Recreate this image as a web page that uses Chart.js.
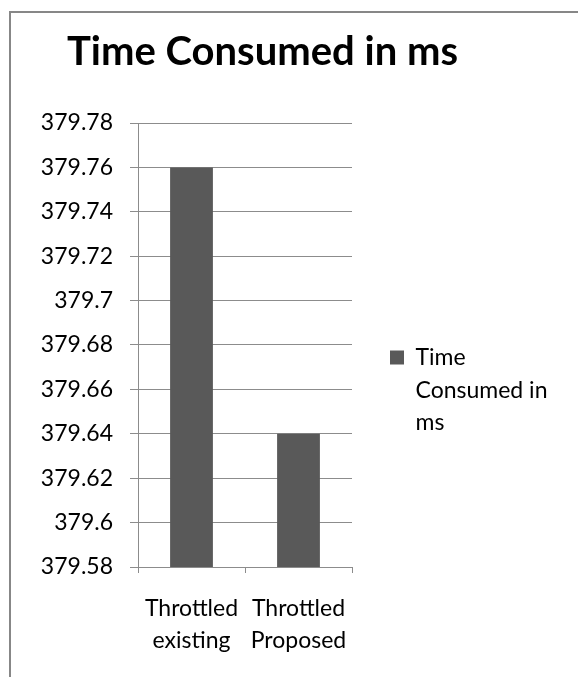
<!DOCTYPE html>
<html lang="en">
<head>
    <meta charset="UTF-8" />
    <title>Time Consumed in ms</title>
    <script src="https://cdn.jsdelivr.net/npm/chart.js"></script>
    <style>
        html, body { margin: 0; padding: 0; background: #fff; overflow: hidden; }
        /* outer chart frame, right and bottom edges fall outside the picture */
        #frame { position: absolute; left: 9px; top: 11px; width: 700px; height: 800px; border: 2px solid #878787; }
        #chart { position: absolute; left: 0; top: 0; }
    </style>
</head>
<body>
    <div id="frame"></div>
    <canvas id="chart" width="578" height="677"></canvas>

    <script>
        // Data
        const chartTitle = 'Time Consumed in ms';
        const categories = [['Throttled', 'existing'], ['Throttled', 'Proposed']];
        const seriesName = 'Time Consumed in ms';
        const timeValues = [379.76, 379.64];
        const yTicks = [379.58, 379.6, 379.62, 379.64, 379.66, 379.68, 379.7, 379.72, 379.74, 379.76, 379.78];
        const legendLines = ['Time', 'Consumed in', 'ms'];

        const barColor = '#595959';
        const lineColor = '#8c8c8c';

        Chart.defaults.font.family = 'Lato';
        Chart.defaults.color = '#000';

        // legend text runs past the legend box like in the original, so don't clip it
        const legendNoClip = {
            id: 'legendNoClip',
            afterLayout(chart) {
                chart.legend.right = chart.width;
                chart.legend.width = chart.legend.right - chart.legend.left;
            }
        };

        new Chart(document.getElementById('chart'), {
            type: 'bar',
            data: {
                labels: categories,
                datasets: [{
                    label: seriesName,
                    data: timeValues,
                    backgroundColor: barColor,
                    borderWidth: 0,
                    barPercentage: 0.4,
                    categoryPercentage: 1.0
                }]
            },
            options: {
                responsive: false,
                animation: false,
                layout: { padding: { left: 9, right: 62, top: 13, bottom: 0 } },
                scales: {
                    x: {
                        afterFit: s => { s.height = 110; },
                        grid: { drawOnChartArea: false, drawTicks: true, tickLength: 6, color: lineColor, offset: true },
                        border: { color: lineColor },
                        ticks: { padding: 19, maxRotation: 0, autoSkip: false, font: { size: 23, lineHeight: 1.4 } }
                    },
                    y: {
                        min: yTicks[0],
                        max: yTicks[yTicks.length - 1],
                        afterFit: s => { s.width = 129; },
                        afterBuildTicks: s => { s.ticks = yTicks.map(v => ({ value: v })); },
                        grid: { color: lineColor, tickLength: 8 },
                        border: { color: lineColor },
                        ticks: { padding: 17, font: { size: 23 }, callback: v => String(v) }
                    }
                },
                plugins: {
                    tooltip: { enabled: false },
                    title: {
                        display: true,
                        text: chartTitle,
                        color: '#000',
                        font: { size: 40, weight: 'bold', lineHeight: 1.2 },
                        padding: { top: 15, bottom: 47 }
                    },
                    legend: {
                        position: 'right',
                        align: 'start',
                        fullSize: false,
                        maxWidth: 164,
                        // empty title only used as a spacer to push the item down
                        title: { display: true, text: '', font: { size: 10, lineHeight: 1 }, padding: { top: 175, bottom: 0 } },
                        labels: {
                            boxWidth: 14,
                            boxHeight: 14,
                            padding: 38,
                            font: { size: 23, lineHeight: 1.42 },
                            generateLabels: () => [{ text: legendLines, fillStyle: barColor, strokeStyle: barColor, lineWidth: 0, datasetIndex: 0 }]
                        }
                    }
                }
            },
            plugins: [legendNoClip]
        });
    </script>
</body>
</html>
